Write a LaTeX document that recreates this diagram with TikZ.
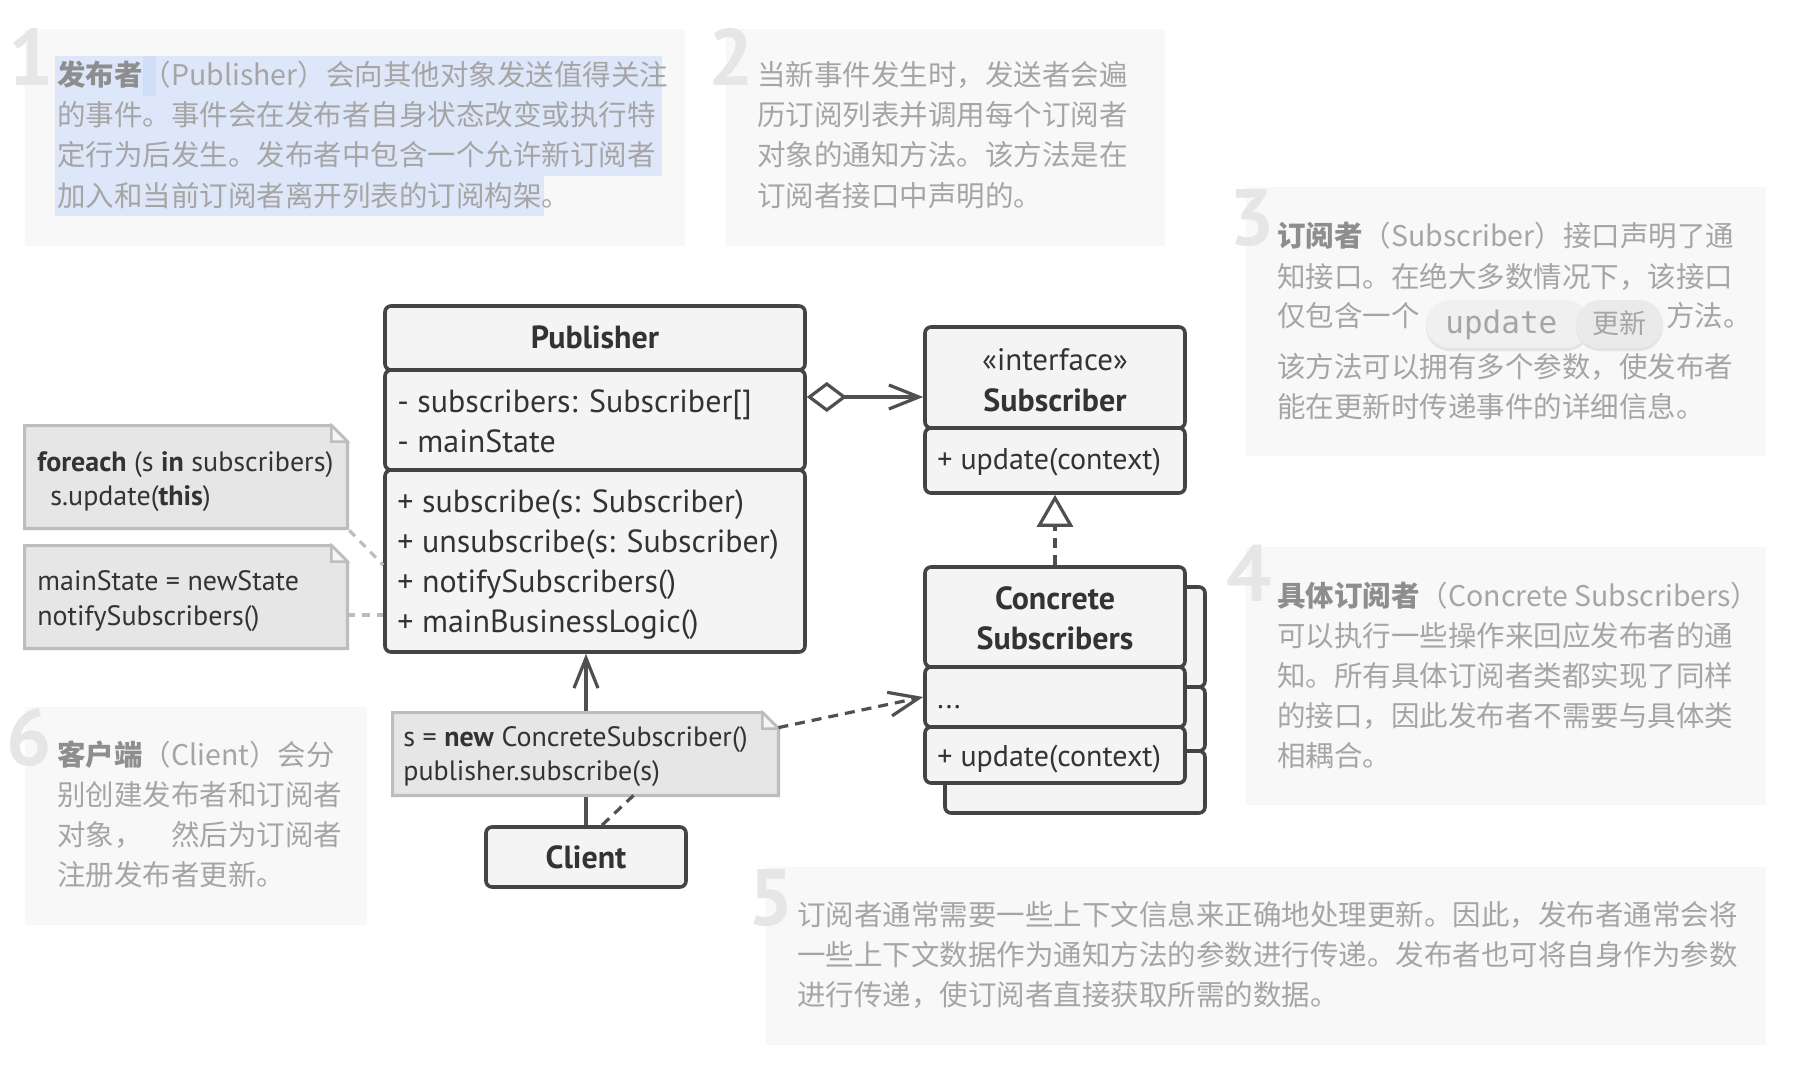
\documentclass[tikz,border=0pt]{standalone}
\usepackage{fontspec}
\setmainfont{PT Sans}
\newfontfamily\cjk{Noto Sans CJK SC}
\newfontfamily\monof{DejaVu Sans Mono}
\usetikzlibrary{arrows.meta}
\definecolor{panelbg}{HTML}{F8F8F8}
\definecolor{ptext}{HTML}{A5A5A5}
\definecolor{pbold}{HTML}{8E8E8E}
\definecolor{numc}{HTML}{E6E6E6}
\definecolor{hl}{HTML}{DDE7F9}
\definecolor{hlb}{HTML}{CFDDF6}
\definecolor{umlline}{HTML}{444444}
\definecolor{umlfill}{HTML}{F4F4F4}
\definecolor{umltext}{HTML}{333333}
\definecolor{notefill}{HTML}{E6E6E6}
\definecolor{noteline}{HTML}{BDBDBD}
\definecolor{arrowc}{HTML}{505050}
\definecolor{pillA}{HTML}{F0F0F0}
\definecolor{pillB}{HTML}{EAEAEA}
\definecolor{pillsh}{HTML}{E3E3E3}
\newcommand\notedraw[1]{%
  \filldraw[noteline, fill=notefill, line width=1.6pt, line join=miter]
    (#1.north west) -- ([xshift=-8pt]#1.north east) -- ([yshift=-8pt]#1.north east)
    -- (#1.south east) -- (#1.south west) -- cycle;
  \filldraw[noteline, fill=white!60!notefill, line width=1.2pt, line join=miter]
    ([xshift=-8pt]#1.north east) -- ([xshift=-8pt,yshift=-8pt]#1.north east)
    -- ([yshift=-8pt]#1.north east) -- cycle;}
\tikzset{
  bignum/.style={anchor=base west, inner sep=0, text=numc, font=\fontsize{40}{40}\selectfont\bfseries},
  ptxt/.style={anchor=base west, inner sep=0, text=ptext, font=\cjk\fontsize{14.25}{18}\selectfont},
  cls/.style={rectangle, draw=umlline, fill=umlfill, line width=1.8pt, rounded corners=3pt, inner sep=0},
  utxt/.style={anchor=base west, inner sep=0, text=umltext, font=\fontsize{16}{19}\selectfont},
  usmall/.style={anchor=base west, inner sep=0, text=umltext, font=\fontsize{15}{18}\selectfont},
  utitle/.style={anchor=base, inner sep=0, text=umltext, font=\fontsize{16}{19}\selectfont\bfseries},
  ntxt/.style={anchor=base west, inner sep=0, text=umltext, font=\fontsize{14}{17}\selectfont},
  notebg/.style={rectangle, draw=none, inner sep=0},
  assoc/.style={draw=arrowc, line width=1.6pt},
  dep/.style={draw=arrowc, line width=1.6pt, dash pattern=on 5pt off 3.5pt},
  notelink/.style={draw=noteline, line width=1.6pt, dash pattern=on 4pt off 3.5pt},
  barb/.style={-{Straight Barb[length=15pt, width=12pt]}}
}
\begin{document}
\begin{tikzpicture}[x=0.5pt, y=-0.5pt]
\useasboundingbox[fill=white] (0,0) rectangle (1796,1070);

% ---------- explanation panels ----------
\fill[panelbg] (25,29) rectangle (685,246);
\fill[panelbg] (726,29) rectangle (1165,246);
\fill[panelbg] (1246,187) rectangle (1766,456);
\fill[panelbg] (1246,547) rectangle (1766,805);
\fill[panelbg] (766,867) rectangle (1766,1045);
\fill[panelbg] (25,707) rectangle (367,925);

% selection highlight in panel 1
\fill[hl] (55,56) rectangle (662,176);
\fill[hl] (55,176) rectangle (544,216);
\fill[hlb] (143,56) rectangle (156,96);

% big numbers
\node[bignum] (num1) at (8,86) {1};
\node[bignum] (num2) at (708,86) {2};
\node[bignum] (num3) at (1229,246) {3};
\node[bignum] (num4) at (1226,601) {4};
\node[bignum] (num5) at (748,925) {5};
\node[bignum] (num6) at (6,765) {6};

% panel 1
\node[ptxt] (p1a) at (57,86) {{\color{pbold}\bfseries 发布者}（Publisher）会向其他对象发送值得关注};
\node[ptxt] (p1b) at (57,126) {的事件。事件会在发布者自身状态改变或执行特};
\node[ptxt] (p1c) at (57,166) {定行为后发生。发布者中包含一个允许新订阅者};
\node[ptxt] (p1d) at (57,206) {加入和当前订阅者离开列表的订阅构架。};

% panel 2
\node[ptxt] (p2a) at (757,86) {当新事件发生时，发送者会遍};
\node[ptxt] (p2b) at (757,126) {历订阅列表并调用每个订阅者};
\node[ptxt] (p2c) at (757,166) {对象的通知方法。该方法是在};
\node[ptxt] (p2d) at (757,206) {订阅者接口中声明的。};

% panel 3
\node[ptxt] (p3a) at (1277,247) {{\color{pbold}\bfseries 订阅者}（Subscriber）接口声明了通};
\node[ptxt] (p3b) at (1277,287) {知接口。在绝大多数情况下，该接口};
\node[ptxt] (p3c) at (1277,327) {仅包含一个};
\fill[pillsh, rounded corners=12pt] (1426,303) rectangle (1590,351);
\fill[pillA, rounded corners=12pt] (1426,300) rectangle (1590,348);
\fill[pillsh, rounded corners=12pt] (1576,303) rectangle (1663,351);
\fill[pillB, rounded corners=12pt] (1576,300) rectangle (1663,348);
\node[anchor=base west, inner sep=0, text=ptext, font=\monof\fontsize{15.5}{18}\selectfont] (p3upd) at (1445,334) {update};
\node[anchor=base, inner sep=0, text=ptext, font=\cjk\fontsize{13.5}{16}\selectfont] (p3gx) at (1619,334) {更新};
\node[ptxt] (p3d) at (1666,327) {方法。};
\node[ptxt] (p3e) at (1277,377) {该方法可以拥有多个参数，使发布者};
\node[ptxt] (p3f) at (1277,417) {能在更新时传递事件的详细信息。};

% panel 4
\node[ptxt] (p4a) at (1277,606) {{\color{pbold}\bfseries 具体订阅者}（Concrete Subscribers）};
\node[ptxt] (p4b) at (1277,646) {可以执行一些操作来回应发布者的通};
\node[ptxt] (p4c) at (1277,686) {知。所有具体订阅者类都实现了同样};
\node[ptxt] (p4d) at (1277,726) {的接口，因此发布者不需要与具体类};
\node[ptxt] (p4e) at (1277,766) {相耦合。};

% panel 5
\node[ptxt] (p5a) at (797,925) {订阅者通常需要一些上下文信息来正确地处理更新。因此，发布者通常会将};
\node[ptxt] (p5b) at (797,965) {一些上下文数据作为通知方法的参数进行传递。发布者也可将自身作为参数};
\node[ptxt] (p5c) at (797,1005) {进行传递，使订阅者直接获取所需的数据。};

% panel 6
\node[ptxt] (p6a) at (57,765) {{\color{pbold}\bfseries 客户端}（Client）会分};
\node[ptxt] (p6b) at (57,805) {别创建发布者和订阅者};
\node[ptxt] (p6c) at (57,845) {对象，\hspace{1em}然后为订阅者};
\node[ptxt] (p6d) at (57,885) {注册发布者更新。};

% ---------- Publisher ----------
\node[cls, minimum width=210pt, minimum height=32pt] (pubT) at (595,338) {};
\node[cls, minimum width=210pt, minimum height=50pt] (pubA) at (595,420) {};
\node[cls, minimum width=210pt, minimum height=91pt] (pubM) at (595,561) {};
\node[utitle] (pubName) at (595,349) {Publisher};
\node[utxt] (pa1) at (397,412) {- subscribers: Subscriber[]};
\node[utxt] (pa2) at (397,452) {- mainState};
\node[utxt] (pm1) at (397,512) {+ subscribe(s: Subscriber)};
\node[utxt] (pm2) at (397,552) {+ unsubscribe(s: Subscriber)};
\node[utxt] (pm3) at (397,592) {+ notifySubscribers()};
\node[utxt] (pm4) at (397,632) {+ mainBusinessLogic()};

% ---------- Subscriber interface ----------
\node[cls, minimum width=130pt, minimum height=50.5pt] (subT) at (1055,377.5) {};
\node[cls, minimum width=130pt, minimum height=32.5pt] (subM) at (1055,460.5) {};
\node[anchor=base, inner sep=0, text=umltext, font=\fontsize{15.5}{19}\selectfont] (subSt) at (1055,370) {«interface»};
\node[utitle] (subName) at (1055,411) {Subscriber};
\node[usmall] (sm1) at (937,469) {+ update(context)};

% ---------- Concrete Subscribers ----------
\node[cls, minimum width=130pt, minimum height=50pt] (shT) at (1075,637) {};
\node[cls, minimum width=130pt, minimum height=32pt] (shA) at (1075,719) {};
\node[cls, minimum width=130pt, minimum height=31pt] (shM) at (1075,782) {};
\node[cls, minimum width=130pt, minimum height=50pt] (concT) at (1055,617) {};
\node[cls, minimum width=130pt, minimum height=30pt] (concA) at (1055,697) {};
\node[cls, minimum width=130pt, minimum height=28pt] (concM) at (1055,755) {};
\node[utitle] (concN1) at (1055,609) {Concrete};
\node[utitle] (concN2) at (1055,649) {Subscribers};
\node[usmall] (ca1) at (937,708) {...};
\node[usmall] (cm1) at (937,766) {+ update(context)};

% ---------- Client ----------
\node[cls, minimum width=100pt, minimum height=30pt] (client) at (586,857) {};
\node[utitle] (clientName) at (586,868) {Client};

% ---------- relations ----------
\draw[assoc, {Diamond[open, length=20pt, width=15pt]}-{Straight Barb[length=15pt, width=12pt]}]
  ([yshift=11.5pt]pubA.east) -- ([yshift=11.5pt]pubA.east -| subT.west);
\draw[dep, -{Triangle[open, length=16pt, width=18pt]}, line join=miter] (concT.north) -- (subM.south);
\draw[assoc, barb] (client.north) -- (client.north |- pubM.south);

% ---------- notes ----------
\node[notebg, minimum width=161pt, minimum height=51pt] (n1) at (186,477) {};
\notedraw{n1}
\node[ntxt] (n1a) at (37,471) {\textbf{foreach} (s \textbf{in} subscribers)};
\node[ntxt] (n1b) at (50,505) {s.update(\textbf{this})};

\node[notebg, minimum width=161pt, minimum height=51pt] (n2) at (186,597) {};
\notedraw{n2}
\node[ntxt] (n2a) at (37,590) {mainState = newState};
\node[ntxt] (n2b) at (37,625) {notifySubscribers()};

\node[notebg, minimum width=192.5pt, minimum height=41pt] (n3) at (585.5,754) {};
\notedraw{n3}
\node[ntxt] (n3a) at (403,746) {s = \textbf{new} ConcreteSubscriber()};
\node[ntxt] (n3b) at (403,780) {publisher.subscribe(s)};

\draw[notelink] ([xshift=1pt,yshift=-1pt]n1.south east) -- ([yshift=-2pt]pubM.west);
\draw[notelink] ([yshift=-9pt]n2.east) -- ([yshift=-9pt]n2.east -| pubM.west);
\draw[dep] ([xshift=8pt]client.north) -- ([xshift=24pt]n3.south);
\draw[dep, barb] ([yshift=-7.5pt]n3.north east) -- (concA.west);
\end{tikzpicture}
\end{document}
